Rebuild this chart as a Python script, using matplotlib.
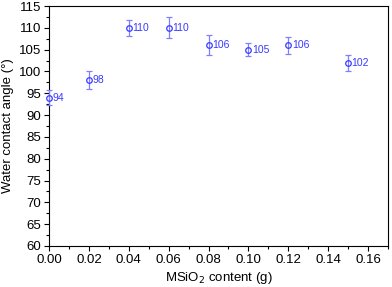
import matplotlib
matplotlib.use("Agg")
import matplotlib.pyplot as plt
from matplotlib.ticker import MultipleLocator

plt.rcParams.update({
    "font.family": ["Liberation Sans", "DejaVu Sans"],
    "font.size": 10,
})

# data
content = [0.00, 0.02, 0.04, 0.06, 0.08, 0.10, 0.12, 0.15]
angle = [94, 98, 110, 110, 106, 105, 106, 102]
err = [1.8, 2.1, 1.8, 2.4, 2.3, 1.5, 2.0, 1.8]

blue = "#3a3aff"

fig = plt.figure(figsize=(3.92, 2.87), dpi=100)
ax = fig.add_axes([49 / 392, 41 / 287, 339 / 392, 240 / 287])

ax.errorbar(content, angle, yerr=err, fmt="o", mfc="none", mec=blue, ms=4,
            mew=0.9, ecolor="#8080ff", elinewidth=0.9, capsize=2.5,
            capthick=0.9, clip_on=False, zorder=3)
for x, y in zip(content, angle):
    ax.annotate(f"{y}", (x, y), xytext=(2.5, 0), textcoords="offset points",
                va="center", ha="left", color=blue, fontsize=7.5)

ax.set_xlim(0, 0.17)
ax.set_ylim(60, 115)
ax.xaxis.set_major_locator(MultipleLocator(0.02))
ax.xaxis.set_minor_locator(MultipleLocator(0.01))
ax.yaxis.set_major_locator(MultipleLocator(5))
ax.yaxis.set_minor_locator(MultipleLocator(2.5))
ax.set_xticklabels([f"{v:.2f}" for v in ax.get_xticks()])
ax.tick_params(which="both", direction="out", labelsize=9.5, pad=2)
ax.tick_params(which="major", length=3.5, width=0.8)
ax.tick_params(which="minor", length=2, width=0.8)
for s in ax.spines.values():
    s.set_linewidth(0.8)

ax.set_xlabel("MSiO$_2$ content (g)", fontsize=9.5, labelpad=3)
ax.set_ylabel("Water contact angle (°)", fontsize=9.5, labelpad=4)

fig.savefig("out.png", dpi=100)
